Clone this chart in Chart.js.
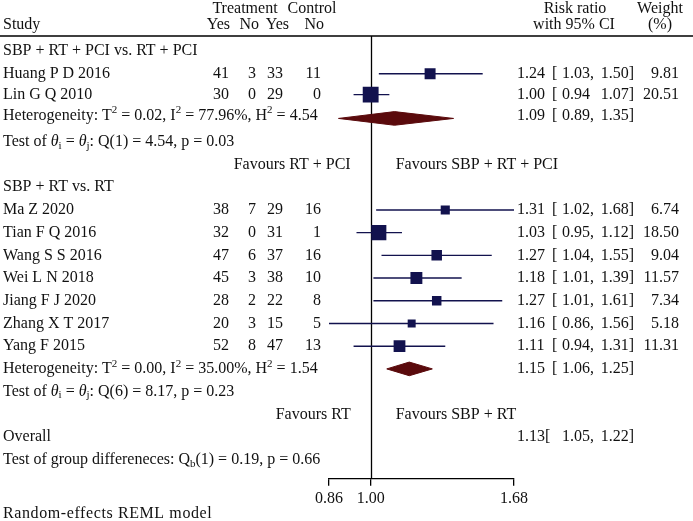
<!DOCTYPE html>
<html>
<head>
<meta charset="utf-8">
<script src="https://cdn.jsdelivr.net/npm/chart.js@4.4.1/dist/chart.umd.min.js"></script>
<style>
  html, body { margin: 0; padding: 0; background: #fff; }
  #wrap { width: 693px; height: 521px; }
</style>
</head>
<body>
<div id="wrap"><canvas id="forest" width="693" height="521"></canvas></div>
<script>
// study level data
const studies = ["Huang P D 2016", "Lin G Q 2010", "Ma Z 2020", "Tian F Q 2016", "Wang S S 2016",
                 "Wei L N 2018", "Jiang F J 2020", "Zhang X T 2017", "Yang F 2015"];
const studyRows = [1, 1.92, 7, 8, 9, 10, 11, 12, 13];
const treatYes = [41, 30, 38, 32, 47, 45, 28, 20, 52];
const treatNo = [3, 0, 7, 0, 6, 3, 2, 3, 8];
const ctrlYes = [33, 29, 29, 31, 37, 38, 22, 15, 47];
const ctrlNo = [11, 0, 16, 1, 16, 10, 8, 5, 13];
const riskRatio = [1.24, 1.00, 1.31, 1.03, 1.27, 1.18, 1.27, 1.16, 1.11];
const ciLow = [1.03, 0.94, 1.02, 0.95, 1.04, 1.01, 1.01, 0.86, 0.94];
const ciHigh = [1.50, 1.07, 1.68, 1.12, 1.55, 1.39, 1.61, 1.56, 1.31];
const weights = [9.81, 20.51, 6.74, 18.50, 9.04, 11.57, 7.34, 5.18, 11.31];
const noCommaStudies = ["Lin G Q 2010"];

// subgroup data
const subgroups = ["SBP + RT + PCI vs. RT + PCI", "SBP + RT vs. RT"];
const subgroupRows = [0, 6];
const subRR = [1.09, 1.15];
const subLow = [0.89, 1.06];
const subHigh = [1.35, 1.25];
const tau2 = ["0.02", "0.00"];
const i2 = ["77.96", "35.00"];
const h2 = ["4.54", "1.54"];
const qDf = [1, 6];
const qStat = ["4.54", "8.17"];
const qP = ["0.03", "0.23"];
const favoursLeft = ["Favours RT + PCI", "Favours RT"];
const favoursRight = ["Favours SBP + RT + PCI", "Favours SBP + RT"];

// overall
const overallRR = 1.13, overallLow = 1.05, overallHigh = 1.22;
const qbDf = 1, qbStat = "0.19", qbP = "0.66";

const xTicks = [0.86, 1.00, 1.68];

const FONT = '"Liberation Serif", "Times New Roman", serif';
const NAVY = "#12124e";
const MAROON = "#5a0a0c";

const hetTextRows = [2.84, 14];
const diamondRows = [2.97, 14];
const testRows = [4, 15];
const favRows = [5, 16];
const overallRow = 17;
const groupTestRow = 18;

const ciSets = studies.map((s, i) => ({
    data: [{ x: ciLow[i], y: studyRows[i] }, { x: ciHigh[i], y: studyRows[i] }],
    showLine: true,
    borderColor: NAVY,
    borderWidth: 1.4,
    pointRadius: 0,
    order: 2
}));

const squareSet = {
    data: studies.map((s, i) => ({ x: riskRatio[i], y: studyRows[i], w: weights[i] })),
    pointStyle: "rect",
    pointRadius: ctx => 3.5 * Math.sqrt(ctx.raw.w) / Math.SQRT2,
    backgroundColor: NAVY,
    borderWidth: 0,
    order: 0
};

const diamondSets = subgroups.map((g, i) => {
    const r = diamondRows[i];
    return {
        data: [
            { x: subLow[i], y: r }, { x: subRR[i], y: r - 0.3 },
            { x: subHigh[i], y: r }, { x: subRR[i], y: r + 0.3 },
            { x: subLow[i], y: r }
        ],
        showLine: true,
        fill: "shape",
        borderColor: MAROON,
        backgroundColor: MAROON,
        borderWidth: 1,
        pointRadius: 0,
        order: 1
    };
});

// draws a run of text pieces, some with sub/superscripts or italics
function drawRich(ctx, parts, x, y) {
    const base = "16px " + FONT;
    const small = "11px " + FONT;
    const fontOf = p => p.sub || p.sup ? small : (p.it ? "italic " + base : base);
    let cx = x;
    ctx.textAlign = "left";
    parts.forEach(p => {
        ctx.font = fontOf(p);
        const dy = p.sup ? -5 : (p.sub ? 4 : 0);
        ctx.fillText(p.t, cx, y + dy);
        cx += ctx.measureText(p.t).width;
    });
    ctx.font = base;
}

function ciText(ctx, est, lo, hi, y, bracketX, comma) {
    ctx.textAlign = "left";
    ctx.fillText(est.toFixed(2), 517, y);
    ctx.fillText("[", bracketX, y);
    ctx.textAlign = "right";
    ctx.fillText(lo.toFixed(2), 590, y);
    if (comma) { ctx.textAlign = "left"; ctx.fillText(",", 590, y); }
    ctx.textAlign = "right";
    ctx.fillText(hi.toFixed(2) + "]", 634, y);
}

const forestText = {
    id: "forestText",
    beforeDatasetsDraw(chart) {
        const { ctx, chartArea, scales } = chart;
        ctx.save();
        ctx.strokeStyle = "#000";
        ctx.lineWidth = 1.3;
        ctx.beginPath();
        ctx.moveTo(0, chartArea.top);
        ctx.lineTo(chart.width, chartArea.top);
        const x1 = Math.round(scales.x.getPixelForValue(1)) + 0.5;
        ctx.moveTo(x1, chartArea.top);
        ctx.lineTo(x1, chartArea.bottom);
        ctx.stroke();
        ctx.restore();
    },
    afterDraw(chart) {
        const { ctx, chartArea, scales } = chart;
        const yOf = r => scales.y.getPixelForValue(r);
        const x1 = scales.x.getPixelForValue(1);
        ctx.save();
        ctx.fillStyle = "#111";
        ctx.textBaseline = "middle";
        ctx.font = "16px " + FONT;

        // header
        const h1 = chartArea.top - 27, h2y = chartArea.top - 11;
        ctx.textAlign = "left";
        ctx.fillText("Study", 3, h2y);
        ctx.textAlign = "center";
        ctx.fillText("Treatment", 245, h1);
        ctx.fillText("Control", 312, h1);
        ctx.textAlign = "right";
        ["Yes", "No", "Yes", "No"].forEach((t, k) => ctx.fillText(t, [230, 259, 289, 324][k], h2y));
        ctx.textAlign = "center";
        ctx.fillText("Risk ratio", 575, h1);
        ctx.fillText("with 95% CI", 574, h2y);
        ctx.fillText("Weight", 660, h1);
        ctx.fillText("(%)", 660, h2y);

        // subgroup headings
        ctx.textAlign = "left";
        subgroups.forEach((g, i) => ctx.fillText(g, 3, yOf(subgroupRows[i])));

        // studies
        studies.forEach((s, i) => {
            const y = yOf(studyRows[i]);
            ctx.textAlign = "left";
            ctx.fillText(s, 3, y);
            ctx.textAlign = "right";
            [treatYes[i], treatNo[i], ctrlYes[i], ctrlNo[i]].forEach((v, k) =>
                ctx.fillText(String(v), [229, 256, 283, 321][k], y));
            ciText(ctx, riskRatio[i], ciLow[i], ciHigh[i], y, 552, !noCommaStudies.includes(s));
            ctx.textAlign = "right";
            ctx.fillText(weights[i].toFixed(2), 679, y);
        });

        // subgroup summaries
        subgroups.forEach((g, i) => {
            const yh = yOf(hetTextRows[i]);
            drawRich(ctx, [
                { t: "Heterogeneity: T" }, { t: "2", sup: true }, { t: " = " + tau2[i] + ", I" },
                { t: "2", sup: true }, { t: " = " + i2[i] + "%, H" }, { t: "2", sup: true },
                { t: " = " + h2[i] }
            ], 3, yh);
            ciText(ctx, subRR[i], subLow[i], subHigh[i], yh, 552, true);
            drawRich(ctx, [
                { t: "Test of " }, { t: "θ", it: true }, { t: "i", sub: true }, { t: " = " },
                { t: "θ", it: true }, { t: "j", sub: true },
                { t: ": Q(" + qDf[i] + ") = " + qStat[i] + ", p = " + qP[i] }
            ], 3, yOf(testRows[i]));
            const yf = yOf(favRows[i]);
            ctx.textAlign = "right";
            ctx.fillText(favoursLeft[i], x1 - 20, yf);
            ctx.textAlign = "left";
            ctx.fillText(favoursRight[i], x1 + 25, yf);
        });

        // overall
        const yo = yOf(overallRow);
        ctx.textAlign = "left";
        ctx.fillText("Overall", 3, yo);
        ciText(ctx, overallRR, overallLow, overallHigh, yo, 545, true);
        drawRich(ctx, [
            { t: "Test of group differeneces: Q" }, { t: "b", sub: true },
            { t: "(" + qbDf + ") = " + qbStat + ", p = " + qbP }
        ], 3, yOf(groupTestRow));

        ctx.textAlign = "left";
        ctx.letterSpacing = "0.6px";
        ctx.fillText("Random-effects REML model", 3, chart.height - 7);
        ctx.restore();
    }
};

new Chart(document.getElementById("forest"), {
    type: "scatter",
    data: { datasets: [...ciSets, squareSet, ...diamondSets] },
    options: {
        responsive: false,
        animation: false,
        events: [],
        layout: { padding: { top: 36, left: 329, right: 179, bottom: 10 } },
        plugins: { legend: { display: false }, tooltip: { enabled: false } },
        scales: {
            x: {
                type: "logarithmic",
                min: xTicks[0],
                max: xTicks[xTicks.length - 1],
                afterBuildTicks: axis => { axis.ticks = xTicks.map(v => ({ value: v })); },
                ticks: {
                    autoSkip: false,
                    maxRotation: 0,
                    padding: 3,
                    color: "#111",
                    font: { family: FONT, size: 16 },
                    callback: v => Number(v).toFixed(2)
                },
                grid: { drawOnChartArea: false, drawTicks: true, tickLength: 7, color: "#000", lineWidth: 1.3 },
                border: { display: true, color: "#000", width: 1.3 }
            },
            y: {
                type: "linear",
                display: false,
                reverse: true,
                min: -0.66,
                max: 18.84
            }
        }
    },
    plugins: [forestText]
});
</script>
</body>
</html>
